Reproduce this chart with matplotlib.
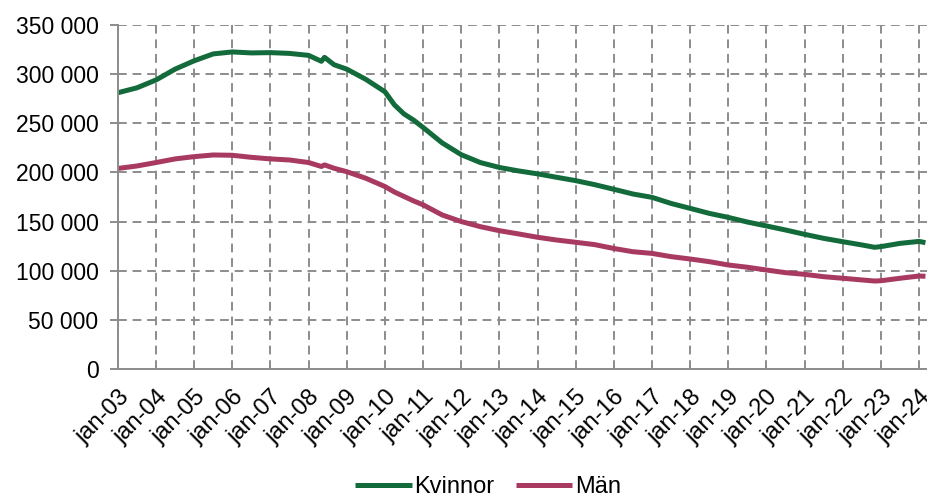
import matplotlib
matplotlib.use("Agg")
import matplotlib.pyplot as plt
from matplotlib.ticker import FuncFormatter, MultipleLocator

plt.rcParams["font.family"] = ["Liberation Sans", "DejaVu Sans"]

# Months (YYYY-MM)
dates = [
    "2003-01", "2003-07", "2004-01", "2004-07", "2005-01", "2005-07",
    "2006-01", "2006-07", "2007-01", "2007-07", "2008-01", "2008-05",
    "2008-06", "2008-09", "2009-01", "2009-07", "2010-01", "2010-04",
    "2010-07", "2010-10", "2011-01", "2011-07", "2012-01", "2012-07",
    "2013-01", "2013-07", "2014-01", "2014-07", "2015-01", "2015-07",
    "2016-01", "2016-07", "2017-01", "2017-07", "2018-01", "2018-07",
    "2019-01", "2019-07", "2020-01", "2020-07", "2021-01", "2021-07",
    "2022-01", "2022-07", "2022-11", "2023-01", "2023-07", "2024-01",
    "2024-03",
]
kvinnor = [
    281000, 286000, 294000, 305000, 313500, 320500,
    322500, 321500, 321800, 321000, 319000, 313000,
    317000, 309500, 305000, 294600, 282000, 268600,
    259400, 253200, 245700, 230000, 218000, 210000,
    205000, 201500, 198500, 195000, 191600, 187500,
    182800, 178000, 174600, 168400, 163400, 158300,
    154200, 149500, 145500, 141400, 137000, 132900,
    129500, 126200, 123800, 124500, 127800, 129800,
    128500,
]
man = [
    204000, 206500, 210000, 213700, 216000, 217700,
    217400, 215300, 213700, 212600, 210000, 206000,
    207600, 204200, 200700, 194000, 185600, 180000,
    175500, 171000, 167000, 156700, 150000, 144800,
    140700, 137400, 134000, 131200, 128900, 126500,
    122600, 119300, 117600, 114300, 111900, 109200,
    105800, 103500, 100700, 98000, 96300, 93900,
    92300, 90600, 89500, 89800, 92300, 94600,
    94300,
]
years = list(range(2003, 2025))

GREEN = "#136B3C"
PINK = "#A83A62"
GRID = "#8C8C8C"


def month_index(s):
    y, m = s.split("-")
    return (int(y) - 2003) * 12 + int(m) - 1


x = [month_index(d) for d in dates]

fig = plt.figure(figsize=(9.28, 4.98), dpi=100)
ax = fig.add_axes([0.127, 0.259, 0.873, 0.691])

ax.plot(x, kvinnor, color=GREEN, lw=3.6, label="Kvinnor", solid_capstyle="butt")
ax.plot(x, man, color=PINK, lw=3.6, label="Män", solid_capstyle="butt")

ax.set_xlim(0, 254.8)
ax.set_ylim(0, 350000)
ax.yaxis.set_major_locator(MultipleLocator(50000))
ax.yaxis.set_major_formatter(FuncFormatter(lambda v, _: f"{int(v):,}".replace(",", " ")))

ax.set_xticks([(y - 2003) * 12 for y in years])
ax.set_xticklabels([f"jan-{y % 100:02d}" for y in years], rotation=45,
                   ha="right", va="top", rotation_mode="anchor")

ax.grid(True, color=GRID, lw=1.4, linestyle=(0, (4.5, 3)))
ax.set_axisbelow(True)
for side in ("top", "right"):
    ax.spines[side].set_visible(False)
for side in ("left", "bottom"):
    ax.spines[side].set_color(GRID)
    ax.spines[side].set_linewidth(1.4)
ax.tick_params(axis="y", length=6, color=GRID, width=1.4, labelsize=16.5, pad=8)
ax.tick_params(axis="x", length=0, labelsize=17, pad=12)

fig.legend(loc="center", bbox_to_anchor=(0.526, 0.022), ncol=2, frameon=False,
           fontsize=17, handlelength=2.4, handletextpad=0.1, columnspacing=0.9)

fig.savefig("out.png", dpi=100)
